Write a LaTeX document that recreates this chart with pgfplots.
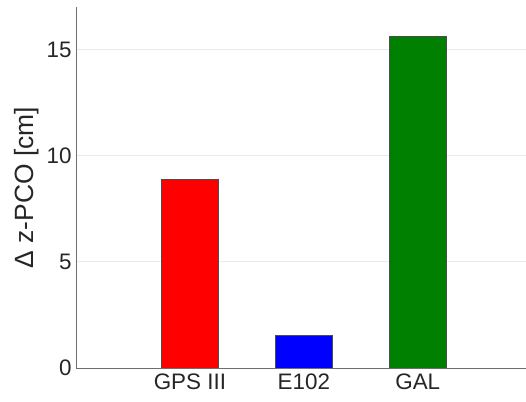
\documentclass[border=0pt]{standalone}
\usepackage{fontspec}
\setmainfont{Liberation Sans}
\usepackage{pgfplots}
\pgfplotsset{compat=1.18}
\definecolor{txt}{RGB}{38,38,38}
\definecolor{axc}{RGB}{110,110,110}
\definecolor{gridc}{RGB}{235,235,235}
\definecolor{mgreen}{RGB}{0,128,0}
\begin{document}
\begin{tikzpicture}
\path[use as bounding box] (-76bp,-34bp) rectangle (450bp,368bp);
\begin{axis}[
  at={(0,0)}, anchor=south west,
  scale only axis, width=450bp, height=361bp,
  xmin=0, xmax=3.95, ymin=0, ymax=17,
  axis x line*=bottom, axis y line*=left,
  axis line style={axc, line width=0.8pt, -},
  xtick={1,2,3}, xticklabels={GPS III, E102, GAL},
  ytick={0,5,10,15},
  major tick length=0pt,
  ymajorgrids, grid style={gridc, line width=0.8pt},
  /pgf/number format/assume math mode=true,
  tick label style={font=\fontsize{22.5}{26}\selectfont, text=txt},
  yticklabel style={xshift=-1bp},
  xticklabel style={yshift=-2bp},
  ylabel={Δ z-PCO [cm]},
  ylabel style={at={(axis description cs:-0.11,0.5)}, anchor=center, font=\fontsize{26.5}{30}\selectfont, text=txt},
  ybar, bar width=0.5, bar shift=0pt,
]
\addplot[fill=red, draw=black!70, line width=0.6pt] coordinates {(1,8.9)};
\addplot[fill=blue, draw=black!70, line width=0.6pt] coordinates {(2,1.55)};
\addplot[fill=mgreen, draw=black!70, line width=0.6pt] coordinates {(3,15.6)};
\end{axis}
\end{tikzpicture}
\end{document}
